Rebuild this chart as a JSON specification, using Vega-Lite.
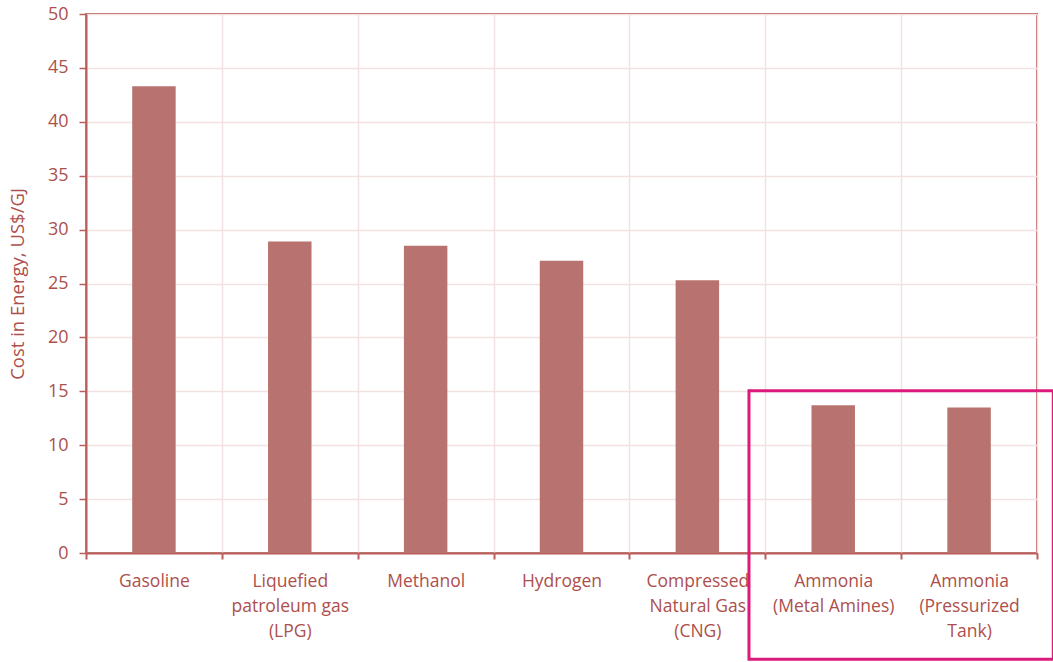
{
  "$schema": "https://vega.github.io/schema/vega-lite/v6.json",
  "width": 951,
  "height": 539,
  "autosize": {"type": "none"},
  "padding": {"left": 86, "top": 14, "right": 16, "bottom": 109},
  "background": "white",
  "config": {
    "view": {"stroke": "#b9605d", "strokeWidth": 2},
    "font": "Open Sans"
  },
  "layer": [
    {
      "data": {
        "values": [
          {"fuel": "Gasoline", "cost": 43.3},
          {"fuel": "Liquefied|patroleum gas|(LPG)", "cost": 28.9},
          {"fuel": "Methanol", "cost": 28.5},
          {"fuel": "Hydrogen", "cost": 27.1},
          {"fuel": "Compressed|Natural Gas|(CNG)", "cost": 25.3},
          {"fuel": "Ammonia|(Metal Amines)", "cost": 13.7},
          {"fuel": "Ammonia|(Pressurized|Tank)", "cost": 13.5}
        ]
      },
      "mark": {"type": "bar", "color": "#b8726f", "width": {"band": 0.32}},
      "encoding": {
        "x": {
          "field": "fuel",
          "type": "nominal",
          "sort": null,
          "scale": {"paddingInner": 0, "paddingOuter": 0},
          "axis": {
            "title": null,
            "labelAngle": 0,
            "labelExpr": "split(datum.label, '|')",
            "labelFont": "Open Sans",
            "labelFontSize": 17.5,
            "labelLineHeight": 25,
            "labelColor": "#ad4f4c",
            "labelPadding": 13,
            "labelBaseline": "top",
            "tickBand": "extent",
            "tickColor": "#b9605d",
            "tickSize": 6,
            "tickWidth": 2,
            "domainColor": "#b9605d",
            "domainWidth": 2,
            "grid": true,
            "gridColor": "#f4e2e2",
            "gridWidth": 1.5
          }
        },
        "y": {
          "field": "cost",
          "type": "quantitative",
          "scale": {"domain": [0, 50], "nice": false},
          "axis": {
            "title": "Cost in Energy, US$/GJ",
            "titleFont": "Open Sans",
            "titleFontSize": 18.5,
            "titleFontWeight": "normal",
            "titleColor": "#ad4f4c",
            "titlePadding": 20,
            "values": [0, 5, 10, 15, 20, 25, 30, 35, 40, 45, 50],
            "labelFont": "Open Sans",
            "labelFontSize": 18,
            "labelColor": "#ad4f4c",
            "labelPadding": 11,
            "tickColor": "#b9605d",
            "tickSize": 7,
            "tickWidth": 1.5,
            "domainColor": "#b9605d",
            "domainWidth": 2,
            "grid": true,
            "gridColor": "#f4e2e2",
            "gridWidth": 1.5
          }
        }
      }
    },
    {
      "data": {"values": [{"x0": 4.88, "x1": 7.12, "y0": 15.05, "y1": -9.85}]},
      "mark": {"type": "rect", "fill": null, "stroke": "#dc1a7c", "strokeWidth": 3, "clip": false},
      "encoding": {
        "x": {"field": "x0", "type": "quantitative", "scale": {"domain": [0, 7], "nice": false, "zero": false}, "axis": null},
        "x2": {"field": "x1"},
        "y": {"field": "y0", "type": "quantitative", "scale": {"domain": [0, 50], "nice": false}, "axis": null},
        "y2": {"field": "y1"}
      }
    }
  ],
  "resolve": {"scale": {"x": "independent", "y": "independent"}, "axis": {"x": "independent", "y": "independent"}}
}
